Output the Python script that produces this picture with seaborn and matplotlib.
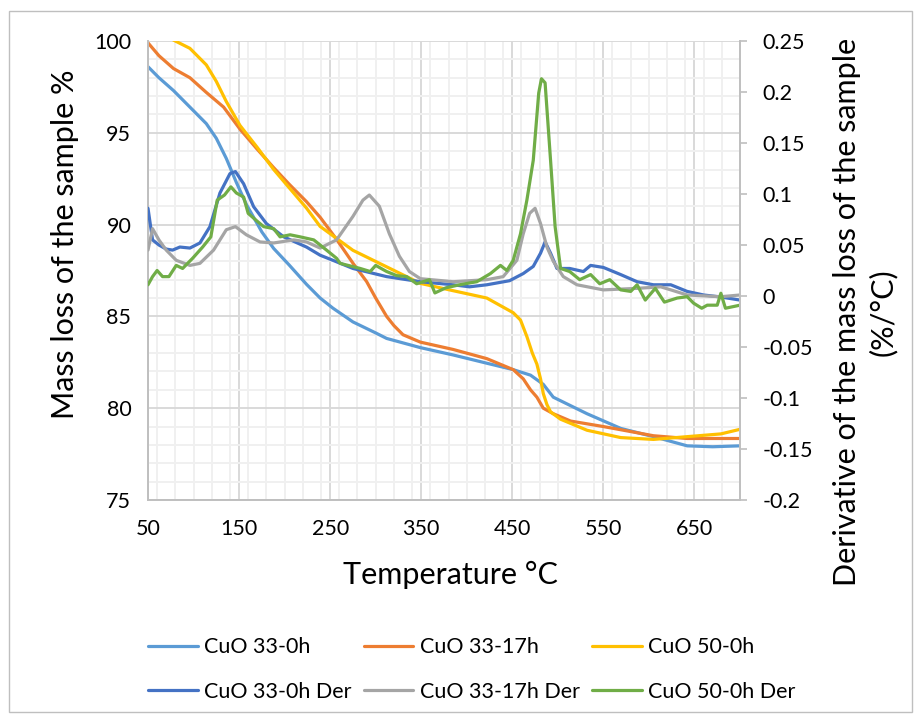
import matplotlib
matplotlib.use("Agg")
import matplotlib.pyplot as plt
import matplotlib.patches as mpatches
from matplotlib.lines import Line2D
from matplotlib.ticker import MultipleLocator
import seaborn as sns

# ---- mass loss curves (left axis, %) ----
t_33_0h = [50, 62, 78, 96, 114, 125, 136, 147, 158, 175, 188, 205, 224, 239, 253, 275, 300,
           312, 349, 385, 422, 451, 470, 484, 495, 532, 569, 605, 642, 670, 700]
m_33_0h = [98.6, 98.0, 97.3, 96.4, 95.5, 94.7, 93.6, 92.3, 91.1, 89.6, 88.7, 87.8, 86.75, 86.0, 85.45,
           84.7, 84.1, 83.8, 83.3, 82.9, 82.45, 82.1, 81.8, 81.3, 80.6, 79.7, 78.9, 78.45, 77.95, 77.9, 77.95]

t_33_17h = [50, 62, 78, 96, 114, 133, 151, 170, 188, 205, 224, 239, 257, 275, 290, 300, 312, 320,
            330, 349, 385, 422, 451, 462, 470, 477, 484, 495, 514, 550, 605, 642, 700]
m_33_17h = [99.9, 99.2, 98.5, 98.0, 97.2, 96.4, 95.2, 94.1, 93.1, 92.2, 91.25, 90.4, 89.2, 87.9, 86.9,
            86.0, 85.0, 84.5, 84.0, 83.6, 83.2, 82.7, 82.1, 81.6, 81.0, 80.6, 80.0, 79.7, 79.3, 79.0,
            78.5, 78.35, 78.35]

t_50_0h = [50, 62, 78, 96, 114, 125, 136, 151, 170, 188, 224, 239, 275, 312, 349, 385, 422, 451,
           459, 466, 472, 477, 481, 484, 488, 492, 503, 532, 569, 605, 642, 679, 700]
m_50_0h = [101.5, 100.9, 100.05, 99.6, 98.7, 97.8, 96.7, 95.4, 94.2, 93.0, 90.9, 89.9, 88.6, 87.7,
           86.8, 86.4, 86.0, 85.2, 84.8, 83.9, 83.0, 82.4, 81.6, 80.8, 80.2, 79.8, 79.4, 78.8, 78.4,
           78.3, 78.45, 78.6, 78.85]

# ---- derivative curves (right axis, %/°C) ----
t_33_0h_der = [50, 55, 62, 70, 77, 85, 96, 107, 118, 129, 140, 146, 155, 166, 180, 199, 224, 239,
               253, 275, 312, 349, 385, 403, 422, 447, 462, 473, 481, 486, 492, 499, 513, 528, 536,
               550, 569, 587, 605, 624, 642, 660, 679, 700]
d_33_0h_der = [0.086, 0.055, 0.05, 0.046, 0.045, 0.048, 0.047, 0.052, 0.068, 0.101, 0.12, 0.122, 0.11,
               0.0875, 0.071, 0.058, 0.048, 0.04, 0.035, 0.027, 0.019, 0.014, 0.011, 0.009, 0.011,
               0.015, 0.022, 0.029, 0.042, 0.053, 0.042, 0.027, 0.027, 0.024, 0.03, 0.028, 0.021,
               0.014, 0.011, 0.011, 0.0045, 0.001, -0.001, -0.004]

t_33_17h_der = [50, 55, 62, 70, 81, 96, 107, 122, 136, 146, 158, 173, 188, 210, 224, 239, 257, 275,
                286, 293, 304, 315, 326, 337, 349, 385, 422, 440, 455, 462, 469, 475, 481, 488, 495,
                506, 521, 550, 587, 613, 624, 642, 679, 700]
d_33_17h_der = [0.045, 0.066, 0.055, 0.045, 0.035, 0.03, 0.032, 0.045, 0.065, 0.068, 0.06, 0.053,
                0.052, 0.055, 0.053, 0.047, 0.055, 0.078, 0.094, 0.099, 0.088, 0.061, 0.039, 0.024,
                0.017, 0.014, 0.016, 0.019, 0.035, 0.061, 0.081, 0.086, 0.071, 0.048, 0.034, 0.019,
                0.011, 0.006, 0.0075, 0.009, 0.006, 0.001, -0.0007, 0.001]

t_50_0h_der = [50, 55, 60, 66, 73, 81, 88, 99, 110, 119, 126, 134, 141, 147, 155, 160, 169, 177, 188,
               195, 206, 217, 232, 246, 257, 261, 283, 294, 300, 312, 323, 334, 345, 359, 365, 377,
               392, 411, 426, 437, 444, 451, 459, 466, 473, 479, 482, 486, 492, 497, 503, 513, 524,
               536, 546, 557, 569, 580, 587, 596, 607, 617, 631, 642, 649, 658, 664, 675, 679, 684, 700]
d_50_0h_der = [0.011, 0.019, 0.025, 0.019, 0.019, 0.03, 0.027, 0.037, 0.048, 0.058, 0.094, 0.099,
               0.107, 0.101, 0.097, 0.081, 0.074, 0.068, 0.066, 0.058, 0.06, 0.058, 0.055, 0.045,
               0.037, 0.032, 0.027, 0.024, 0.03, 0.024, 0.02, 0.019, 0.012, 0.016, 0.003, 0.008,
               0.011, 0.014, 0.022, 0.03, 0.025, 0.035, 0.061, 0.094, 0.133, 0.199, 0.213, 0.209,
               0.133, 0.068, 0.027, 0.024, 0.016, 0.021, 0.012, 0.016, 0.006, 0.0045, 0.011, -0.004,
               0.0075, -0.006, -0.002, -0.0007, -0.007, -0.012, -0.009, -0.009, 0.0027, -0.012, -0.009]

mass_series = [("CuO 33-0h", t_33_0h, m_33_0h, "#5B9BD5"),
               ("CuO 33-17h", t_33_17h, m_33_17h, "#ED7D31"),
               ("CuO 50-0h", t_50_0h, m_50_0h, "#FFC000")]
der_series = [("CuO 33-0h Der", t_33_0h_der, d_33_0h_der, "#4472C4"),
              ("CuO 33-17h Der", t_33_17h_der, d_33_17h_der, "#A5A5A5"),
              ("CuO 50-0h Der", t_50_0h_der, d_50_0h_der, "#70AD47")]

sns.set_style("white")
plt.rcParams['font.family'] = ['Lato', 'DejaVu Sans']
plt.rcParams['text.color'] = 'black'
plt.rcParams['axes.labelcolor'] = 'black'

W, H = 918, 720
fig = plt.figure(figsize=(W / 100, H / 100), dpi=100)
ax = fig.add_axes([148 / W, 1 - 500 / H, 592 / W, 459 / H])
ax2 = ax.twinx()

lw = 2.3
for name, t, v, c in mass_series:
    sns.lineplot(x=t, y=v, ax=ax, color=c, linewidth=lw, label=name, legend=False)
for name, t, v, c in der_series:
    sns.lineplot(x=t, y=v, ax=ax2, color=c, linewidth=lw, label=name, legend=False)

# axes ranges / ticks
ax.set_xlim(50, 700)
ax.set_ylim(75, 100)
ax2.set_ylim(-0.2, 0.25)
ax.set_xticks(range(50, 701, 100))
ax.xaxis.set_minor_locator(MultipleLocator(20))
ax.yaxis.set_major_locator(MultipleLocator(5))
ax.yaxis.set_minor_locator(MultipleLocator(1))
ax2.yaxis.set_major_locator(MultipleLocator(0.05))
ax2.set_yticklabels([f"{v:g}" for v in ax2.get_yticks()])

ax.grid(True, which='major', color='#D9D9D9', linewidth=1.4)
ax.grid(True, which='minor', color='#F0F0F0', linewidth=1.4)
ax.set_axisbelow(True)

for a in (ax, ax2):
    for s in a.spines.values():
        s.set_visible(False)
for s in ('left', 'bottom'):
    ax.spines[s].set_visible(True)
    ax.spines[s].set_color('#BFBFBF')
    ax.spines[s].set_linewidth(1.4)
ax2.spines['right'].set_visible(True)
ax2.spines['right'].set_color('#BFBFBF')
ax2.spines['right'].set_linewidth(1.4)

ax.tick_params(axis='x', which='both', length=0, labelsize=15.5, pad=14, colors='black')
ax.tick_params(axis='y', which='both', length=0, labelsize=15.5, pad=12, colors='black')
ax2.tick_params(axis='y', which='major', length=5, width=1.2, color='#BFBFBF',
                labelsize=15.5, pad=11, labelcolor='black')

# axis titles placed where the reference has them
fig.text(450 / W, 1 - 575 / H, "Temperature °C", fontsize=22, ha='center', va='center')
fig.text(65 / W, 1 - 244 / H, "Mass loss of the sample %", fontsize=22, rotation=90,
         ha='center', va='center')
fig.text(865 / W, 1 - 312 / H, "Derivative of the mass loss of the sample\n(%/°C)", fontsize=22,
         rotation=90, ha='center', va='center', multialignment='center', linespacing=1.3)

# legend below the plot, 2 rows x 3 columns (filled row by row)
entries = mass_series + der_series
order = [0, 3, 1, 4, 2, 5]
handles = [Line2D([], [], color=entries[i][3], linewidth=lw) for i in order]
labels = [entries[i][0] for i in order]
fig.legend(handles, labels, ncol=3, loc='center left', bbox_to_anchor=(148 / W, 1 - 669.5 / H),
           frameon=False, fontsize=15.5, handlelength=2.3, handletextpad=0.28, borderpad=0,
           borderaxespad=0, columnspacing=0.6, labelspacing=1.15)

# chart frame like an office chart
fig.patches.append(mpatches.Rectangle((9 / W, 8 / H), 903 / W, 701 / H,
                                      transform=fig.transFigure, fill=False,
                                      edgecolor='#BFBFBF', linewidth=1.0))

fig.savefig("out.png", dpi=100)
